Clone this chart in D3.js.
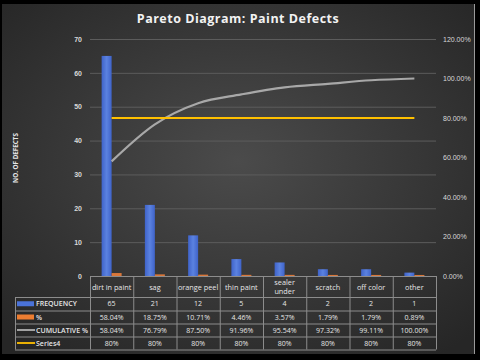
<!DOCTYPE html>
<html>
<head>
<meta charset="utf-8">
<script src="https://cdn.jsdelivr.net/npm/d3@7"></script>
<style>
  html, body { margin: 0; padding: 0; background: #000; }
  svg { display: block; font-family: "Open Sans", "Liberation Sans", sans-serif; }
</style>
</head>
<body>
<svg id="chart" width="480" height="360"></svg>
<script>
// chart data
const categories = ['dirt in paint', 'sag', 'orange peel', 'thin paint', 'sealer under', 'scratch', 'off color', 'other'];
const frequency = [65, 21, 12, 5, 4, 2, 2, 1];
const percent = [58.04, 18.75, 10.71, 4.46, 3.57, 1.79, 1.79, 0.89];
const cumulative = [58.04, 76.79, 87.50, 91.96, 95.54, 97.32, 99.11, 100.00];
const series4 = [80, 80, 80, 80, 80, 80, 80, 80];
const leftTicks = [0, 10, 20, 30, 40, 50, 60, 70];
const rightTicks = [0, 20, 40, 60, 80, 100, 120];

const svg = d3.select('#chart');

// background panel with soft radial shading
const defs = svg.append('defs');
const grad = defs.append('radialGradient').attr('id', 'bg')
  .attr('cx', '50%').attr('cy', '45%').attr('r', '70%');
grad.append('stop').attr('offset', '0%').attr('stop-color', '#4b4b4b');
grad.append('stop').attr('offset', '100%').attr('stop-color', '#262626');

const barGrad = defs.append('linearGradient').attr('id', 'blue')
  .attr('x1', 0).attr('x2', 1).attr('y1', 0).attr('y2', 0);
barGrad.append('stop').attr('offset', '0%').attr('stop-color', '#3f63c9');
barGrad.append('stop').attr('offset', '50%').attr('stop-color', '#5b82e0');
barGrad.append('stop').attr('offset', '100%').attr('stop-color', '#3f63c9');

svg.append('rect').attr('x', 2).attr('y', 4).attr('width', 472).attr('height', 350)
  .attr('fill', 'url(#bg)');
svg.append('line').attr('x1', 474.5).attr('x2', 474.5).attr('y1', 4).attr('y2', 354)
  .attr('stroke', '#9a9a9a').attr('stroke-width', 1);

// title
svg.append('text')
  .attr('x', 238).attr('y', 23)
  .attr('text-anchor', 'middle')
  .attr('fill', '#f2f2f2')
  .attr('font-size', 12.5).attr('font-weight', 700)
  .attr('letter-spacing', 0.5)
  .text('Pareto Diagram: Paint Defects');

// scales
const plot = { left: 90, right: 436, top: 39, bottom: 276 };
const x = d3.scaleBand().domain(categories).range([plot.left, plot.right]);
const yL = d3.scaleLinear().domain([0, 70]).range([plot.bottom, plot.top]);
const yR = d3.scaleLinear().domain([0, 120]).range([plot.bottom, plot.top]);
const cx = d => x(d) + x.bandwidth() / 2;

// gridlines
svg.append('g')
  .selectAll('line')
  .data(leftTicks.slice(1))
  .join('line')
  .attr('x1', plot.left).attr('x2', plot.right)
  .attr('y1', d => yL(d) + 0.5).attr('y2', d => yL(d) + 0.5)
  .attr('stroke', '#5c5c5c').attr('stroke-width', 1);

// left axis
const axL = svg.append('g')
  .attr('transform', `translate(${plot.left - 6},0)`)
  .call(d3.axisLeft(yL).tickValues(leftTicks).tickSize(0).tickPadding(2));
axL.select('.domain').remove();
axL.selectAll('text').attr('fill', '#d9d9d9').attr('font-size', 7).attr('font-weight', 700);

// right axis
const axR = svg.append('g')
  .attr('transform', `translate(${plot.right + 5},0)`)
  .call(d3.axisRight(yR).tickValues(rightTicks).tickSize(0).tickPadding(2)
    .tickFormat(d => d3.format('.2f')(d) + '%'));
axR.select('.domain').remove();
axR.selectAll('text').attr('fill', '#d9d9d9').attr('font-size', 7);

// y axis title
svg.append('text')
  .attr('transform', 'translate(18,158) rotate(-90)')
  .attr('text-anchor', 'middle')
  .attr('fill', '#e6e6e6').attr('font-size', 6.3).attr('font-weight', 700)
  .text('NO. OF DEFECTS');

// bars: frequency (blue) and % (orange, on left scale)
const barW = 10;
svg.append('g').selectAll('rect')
  .data(categories)
  .join('rect')
  .attr('x', d => cx(d) - barW)
  .attr('width', barW)
  .attr('y', (d, i) => yL(frequency[i]))
  .attr('height', (d, i) => plot.bottom - yL(frequency[i]))
  .attr('fill', 'url(#blue)');

svg.append('g').selectAll('rect')
  .data(categories)
  .join('rect')
  .attr('x', d => cx(d))
  .attr('width', barW)
  .attr('y', (d, i) => yL(percent[i] / 100) - 1)
  .attr('height', (d, i) => plot.bottom - yL(percent[i] / 100) + 1)
  .attr('fill', '#d9773a');

// cumulative line and 80% line
const lineCum = d3.line()
  .x((d, i) => cx(categories[i]))
  .y(d => yR(d))
  .curve(d3.curveMonotoneX);

svg.append('path')
  .attr('d', lineCum(cumulative))
  .attr('fill', 'none').attr('stroke', '#a8a8a8').attr('stroke-width', 2.2);

svg.append('path')
  .attr('d', d3.line().x((d, i) => cx(categories[i])).y(d => yR(d))(series4))
  .attr('fill', 'none').attr('stroke', '#ffc000').attr('stroke-width', 2.2);

// data table
const rowH = [21, 13.5, 13, 13, 13];
const rowY = [plot.bottom];
rowH.forEach((h, i) => rowY.push(rowY[i] + h));
const tableLeft = 15;
const lineColor = '#8c8c8c';
const tbl = svg.append('g');

// horizontal lines
rowY.forEach((yy, i) => {
  tbl.append('line')
    .attr('x1', i === 0 ? plot.left : tableLeft)
    .attr('x2', plot.right)
    .attr('y1', yy + 0.5).attr('y2', yy + 0.5)
    .attr('stroke', lineColor).attr('stroke-width', 1);
});
// vertical lines
const colX = categories.map(d => x(d)).concat([plot.right]);
colX.forEach(xx => {
  tbl.append('line')
    .attr('x1', xx + 0.5).attr('x2', xx + 0.5)
    .attr('y1', rowY[0]).attr('y2', rowY[5])
    .attr('stroke', lineColor).attr('stroke-width', 1);
});
tbl.append('line')
  .attr('x1', tableLeft + 0.5).attr('x2', tableLeft + 0.5)
  .attr('y1', rowY[1]).attr('y2', rowY[5])
  .attr('stroke', lineColor).attr('stroke-width', 1);

// header row
categories.forEach(c => {
  const parts = c === 'sealer under' ? ['sealer', 'under'] : [c];
  const t = tbl.append('text')
    .attr('x', cx(c))
    .attr('text-anchor', 'middle')
    .attr('fill', '#e6e6e6').attr('font-size', 7.3);
  parts.forEach((p, k) => {
    t.append('tspan')
      .attr('x', cx(c))
      .attr('y', rowY[0] + (parts.length === 1 ? 13.5 : 9 + k * 8.5))
      .text(p);
  });
});

const fmtPct = d => d3.format('.2f')(d) + '%';
const rows = [
  { name: 'FREQUENCY', values: frequency.map(String), key: 'rect', color: '#4a72d8' },
  { name: '%', values: percent.map(fmtPct), key: 'rect', color: '#ed7d31' },
  { name: 'CUMULATIVE %', values: cumulative.map(fmtPct), key: 'line', color: '#b0b0b0' },
  { name: 'Series4', values: series4.map(d => d + '%'), key: 'line', color: '#ffc000' }
];

rows.forEach((r, i) => {
  const mid = rowY[i + 1] + (rowY[i + 2] - rowY[i + 1]) / 2;
  if (r.key === 'rect') {
    tbl.append('rect').attr('x', 17).attr('y', mid - 2.5).attr('width', 17).attr('height', 5)
      .attr('fill', r.color);
  } else {
    tbl.append('line').attr('x1', 17).attr('x2', 35).attr('y1', mid).attr('y2', mid)
      .attr('stroke', r.color).attr('stroke-width', 1.8);
  }
  tbl.append('text')
    .attr('x', 36).attr('y', mid + 2.6)
    .attr('fill', '#e6e6e6').attr('font-size', 7).attr('font-weight', 600)
    .text(r.name);
  r.values.forEach((v, j) => {
    tbl.append('text')
      .attr('x', cx(categories[j])).attr('y', mid + 2.6)
      .attr('text-anchor', 'middle')
      .attr('fill', '#e6e6e6').attr('font-size', 7)
      .text(v);
  });
});
</script>
</body>
</html>
